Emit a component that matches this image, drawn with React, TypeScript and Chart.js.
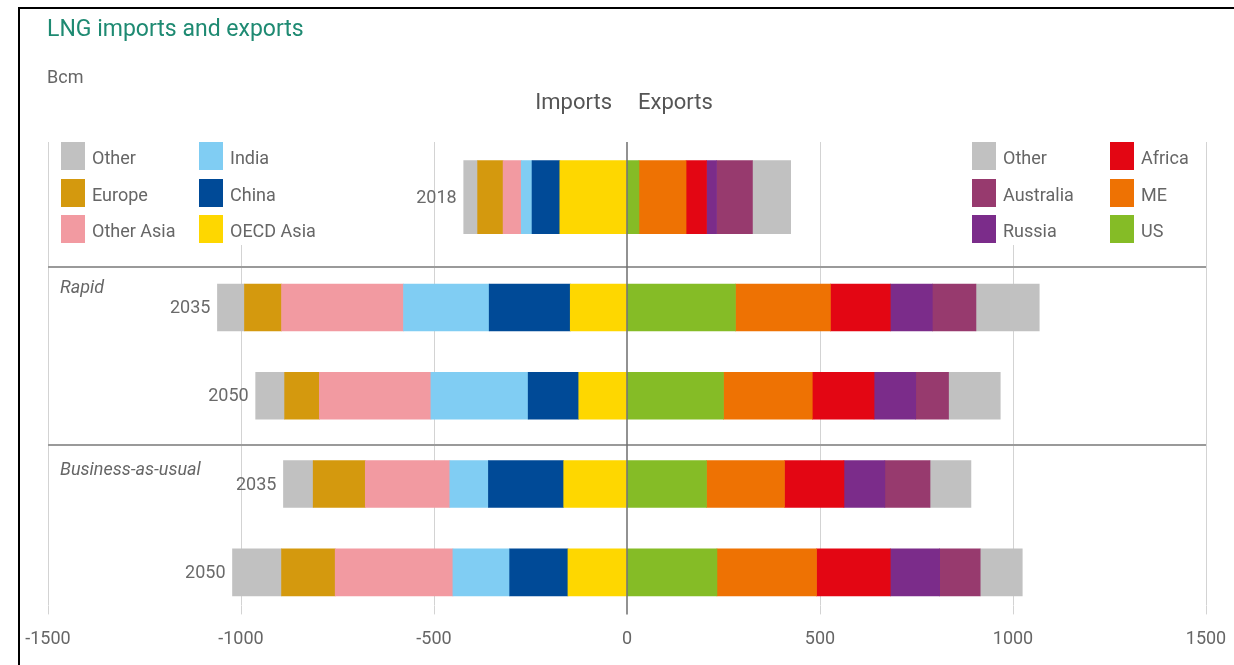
import React, { useEffect, useRef } from 'react';
import { Chart, registerables } from 'chart.js';

Chart.register(...registerables);

// ---------- data ----------
// rows: 2018, Rapid 2035, Rapid 2050, Business-as-usual 2035, Business-as-usual 2050
const rowYears = ['2018', '2035', '2050', '2035', '2050'];
const scenarios = ['Rapid', 'Business-as-usual'];
const xTickValues = [-1500, -1000, -500, 0, 500, 1000, 1500];

// imports (Bcm, shown as negative values)
const importOECDAsia = [-174, -147, -125, -164, -153];
const importChina = [-72, -210, -131, -195, -151];
const importIndia = [-28, -222, -252, -100, -147];
const importOtherAsia = [-47, -316, -289, -219, -305];
const importEurope = [-66, -96, -90, -135, -139];
const importOther = [-36, -70, -75, -77, -127];

// exports (Bcm)
const exportUS = [31, 281, 250, 206, 233];
const exportME = [122, 246, 230, 202, 258];
const exportAfrica = [53, 155, 160, 154, 191];
const exportRussia = [26, 109, 108, 106, 128];
const exportAustralia = [93, 113, 85, 117, 105];
const exportOther = [99, 164, 134, 106, 109];

// ---------- styling / layout ----------
const importSeries = [
  { name: 'OECD Asia', data: importOECDAsia, color: '#fed700' },
  { name: 'China', data: importChina, color: '#004a97' },
  { name: 'India', data: importIndia, color: '#80cdf3' },
  { name: 'Other Asia', data: importOtherAsia, color: '#f29aa1' },
  { name: 'Europe', data: importEurope, color: '#d4990e' },
  { name: 'Other', data: importOther, color: '#c1c1c1' },
];
const exportSeries = [
  { name: 'US', data: exportUS, color: '#85bc26' },
  { name: 'ME', data: exportME, color: '#ee7203' },
  { name: 'Africa', data: exportAfrica, color: '#e30613' },
  { name: 'Russia', data: exportRussia, color: '#7b2c8a' },
  { name: 'Australia', data: exportAustralia, color: '#973a6e' },
  { name: 'Other', data: exportOther, color: '#c1c1c1' },
];

const SLOT_COUNT = 21;
const ROW_SLOTS = [2, 7, 11, 15, 19];
const SEP_OFFSETS = [125, 303]; // separators below chart-area top
const GRID_COLOR = '#d3d3d3';
const GRID_EXT = 9;
const FONT = 'Roboto, "Noto Sans", sans-serif';

const slotLabels = Array.from({ length: SLOT_COUNT }, (_, i) => {
  const r = ROW_SLOTS.indexOf(i);
  return r >= 0 ? rowYears[r] : '';
});

function slotData(vals: number[], rows: number[]) {
  const d: (number | null)[] = new Array(SLOT_COUNT).fill(null);
  rows.forEach((r) => {
    d[ROW_SLOTS[r]] = vals[r];
  });
  return d;
}

const allSeries = [...importSeries, ...exportSeries];

const datasets: any[] = [];
allSeries.forEach((s) => {
  datasets.push({
    label: s.name + ' 2018',
    data: slotData(s.data, [0]),
    backgroundColor: s.color,
    borderWidth: 0,
    barThickness: 73,
  });
  datasets.push({
    label: s.name,
    data: slotData(s.data, [1, 2, 3, 4]),
    backgroundColor: s.color,
    borderWidth: 0,
    barThickness: 47,
  });
});

const overlayPlugin = {
  id: 'overlay',
  beforeDatasetsDraw(chart: any) {
    const { ctx, chartArea: a, scales } = chart;
    const xs = scales.x;
    ctx.save();
    ctx.strokeStyle = GRID_COLOR;
    ctx.lineWidth = 1;
    xTickValues.forEach((v) => {
      if (v === 0) return;
      const px = Math.round(xs.getPixelForValue(v)) + 0.5;
      ctx.beginPath();
      ctx.moveTo(px, a.bottom);
      ctx.lineTo(px, a.bottom + GRID_EXT);
      ctx.stroke();
    });
    ctx.restore();
  },
  afterDatasetsDraw(chart: any) {
    const { ctx, chartArea: a, scales } = chart;
    const xs = scales.x;
    const ys = scales.y;
    ctx.save();
    // separators
    ctx.strokeStyle = '#9a9a9a';
    ctx.lineWidth = 2;
    SEP_OFFSETS.forEach((o) => {
      ctx.beginPath();
      ctx.moveTo(a.left, a.top + o);
      ctx.lineTo(a.right, a.top + o);
      ctx.stroke();
    });
    // zero line
    const x0 = xs.getPixelForValue(0);
    ctx.strokeStyle = '#6e6e6e';
    ctx.lineWidth = 1.5;
    ctx.beginPath();
    ctx.moveTo(x0, a.top);
    ctx.lineTo(x0, a.bottom + GRID_EXT);
    ctx.stroke();
    // year labels at bar start
    ctx.fillStyle = '#6a6a6a';
    ctx.font = '18px ' + FONT;
    ctx.textAlign = 'right';
    ctx.textBaseline = 'middle';
    rowYears.forEach((yr, r) => {
      const total = importSeries.reduce((acc, s) => acc + s.data[r], 0);
      const px = xs.getPixelForValue(total) - 7;
      const py = ys.getPixelForValue(ROW_SLOTS[r]) + 1;
      ctx.fillText(yr, px, py);
    });
    ctx.restore();
  },
};

const legendLeft = [
  ['Other', 'Europe', 'Other Asia'],
  ['India', 'China', 'OECD Asia'],
];
const legendRight = [
  ['Other', 'Australia', 'Russia'],
  ['Africa', 'ME', 'US'],
];

function colorOf(list: { name: string; color: string }[], name: string) {
  const f = list.find((s) => s.name === name);
  return f ? f.color : '#ccc';
}

function Legend({ cols, xs, list }: { cols: string[][]; xs: number[]; list: any[] }) {
  const items: any[] = [];
  cols.forEach((col, ci) =>
    col.forEach((name, ri) => {
      const top = 142 + ri * 36.6;
      const left = xs[ci];
      items.push(
        <div key={ci + '-' + ri}>
          <div
            style={{
              position: 'absolute',
              left,
              top,
              width: 24,
              height: 28,
              background: colorOf(list, name),
            }}
          />
          <div
            style={{
              position: 'absolute',
              left: left + 31,
              top: top + 2,
              height: 28,
              lineHeight: '28px',
              fontSize: 18,
              color: '#666',
              whiteSpace: 'nowrap',
            }}
          >
            {name}
          </div>
        </div>
      );
    })
  );
  return <>{items}</>;
}

export default function App() {
  const ref = useRef<HTMLCanvasElement>(null);

  useEffect(() => {
    if (!ref.current) return;
    const chart = new Chart(ref.current, {
      type: 'bar',
      data: { labels: slotLabels, datasets },
      options: {
        animation: false,
        responsive: false,
        indexAxis: 'y',
        layout: { padding: { left: 48, right: 28, top: 142, bottom: 12 } },
        plugins: {
          legend: { display: false },
          tooltip: { enabled: false },
          title: { display: false },
        },
        scales: {
          x: {
            type: 'linear',
            stacked: true,
            min: -1500,
            max: 1500,
            afterBuildTicks: (s: any) => {
              s.ticks = xTickValues.map((v) => ({ value: v }));
            },
            ticks: {
              color: '#666',
              font: { family: FONT, size: 18 },
              padding: 3,
              callback: (v: any) => String(v),
            },
            grid: {
              color: (c: any) => (c.tick && c.tick.value === 0 ? 'rgba(0,0,0,0)' : GRID_COLOR),
              lineWidth: 1,
              tickLength: 20,
              tickColor: 'rgba(0,0,0,0)',
              drawTicks: true,
            },
            border: { display: false },
          },
          y: {
            type: 'category',
            stacked: true,
            display: false,
            offset: true,
          },
        },
      },
      plugins: [overlayPlugin],
    } as any);
    return () => chart.destroy();
  }, []);

  return (
    <div
      style={{
        position: 'absolute',
        left: 0,
        top: 0,
        width: 1234,
        height: 665,
        background: '#fff',
        overflow: 'hidden',
        fontFamily: FONT,
      }}
    >
      <canvas ref={ref} width={1234} height={665} style={{ position: 'absolute', left: 0, top: 0 }} />
      {/* frame */}
      <div
        style={{
          position: 'absolute',
          left: 18,
          top: 7,
          width: 1234,
          height: 665,
          borderTop: '2px solid #000',
          borderLeft: '2px solid #000',
          boxSizing: 'border-box',
        }}
      />
      {/* title */}
      <div
        style={{
          position: 'absolute',
          left: 47,
          top: 17,
          fontSize: 23,
          lineHeight: '23px',
          color: '#1e8a72',
          whiteSpace: 'nowrap',
        }}
      >
        LNG imports and exports
      </div>
      <div
        style={{
          position: 'absolute',
          left: 47,
          top: 68,
          fontSize: 18,
          lineHeight: '18px',
          color: '#666',
        }}
      >
        Bcm
      </div>
      <div
        style={{
          position: 'absolute',
          right: 1234 - 612,
          top: 91,
          fontSize: 22,
          lineHeight: '22px',
          color: '#555',
        }}
      >
        Imports
      </div>
      <div
        style={{
          position: 'absolute',
          left: 638,
          top: 91,
          fontSize: 22,
          lineHeight: '22px',
          color: '#555',
        }}
      >
        Exports
      </div>
      {/* legend backgrounds */}
      <div style={{ position: 'absolute', left: 52, top: 142, width: 292, height: 103, background: '#fff' }} />
      <div style={{ position: 'absolute', left: 962, top: 142, width: 240, height: 103, background: '#fff' }} />
      <Legend cols={legendLeft} xs={[61, 199]} list={importSeries} />
      <Legend cols={legendRight} xs={[972, 1110]} list={exportSeries} />
      {/* scenario labels */}
      <div
        style={{
          position: 'absolute',
          left: 60,
          top: 278,
          fontSize: 18,
          lineHeight: '18px',
          fontStyle: 'italic',
          color: '#666',
        }}
      >
        {scenarios[0]}
      </div>
      <div
        style={{
          position: 'absolute',
          left: 60,
          top: 460,
          fontSize: 18,
          lineHeight: '18px',
          fontStyle: 'italic',
          color: '#666',
          whiteSpace: 'nowrap',
        }}
      >
        {scenarios[1]}
      </div>
    </div>
  );
}
